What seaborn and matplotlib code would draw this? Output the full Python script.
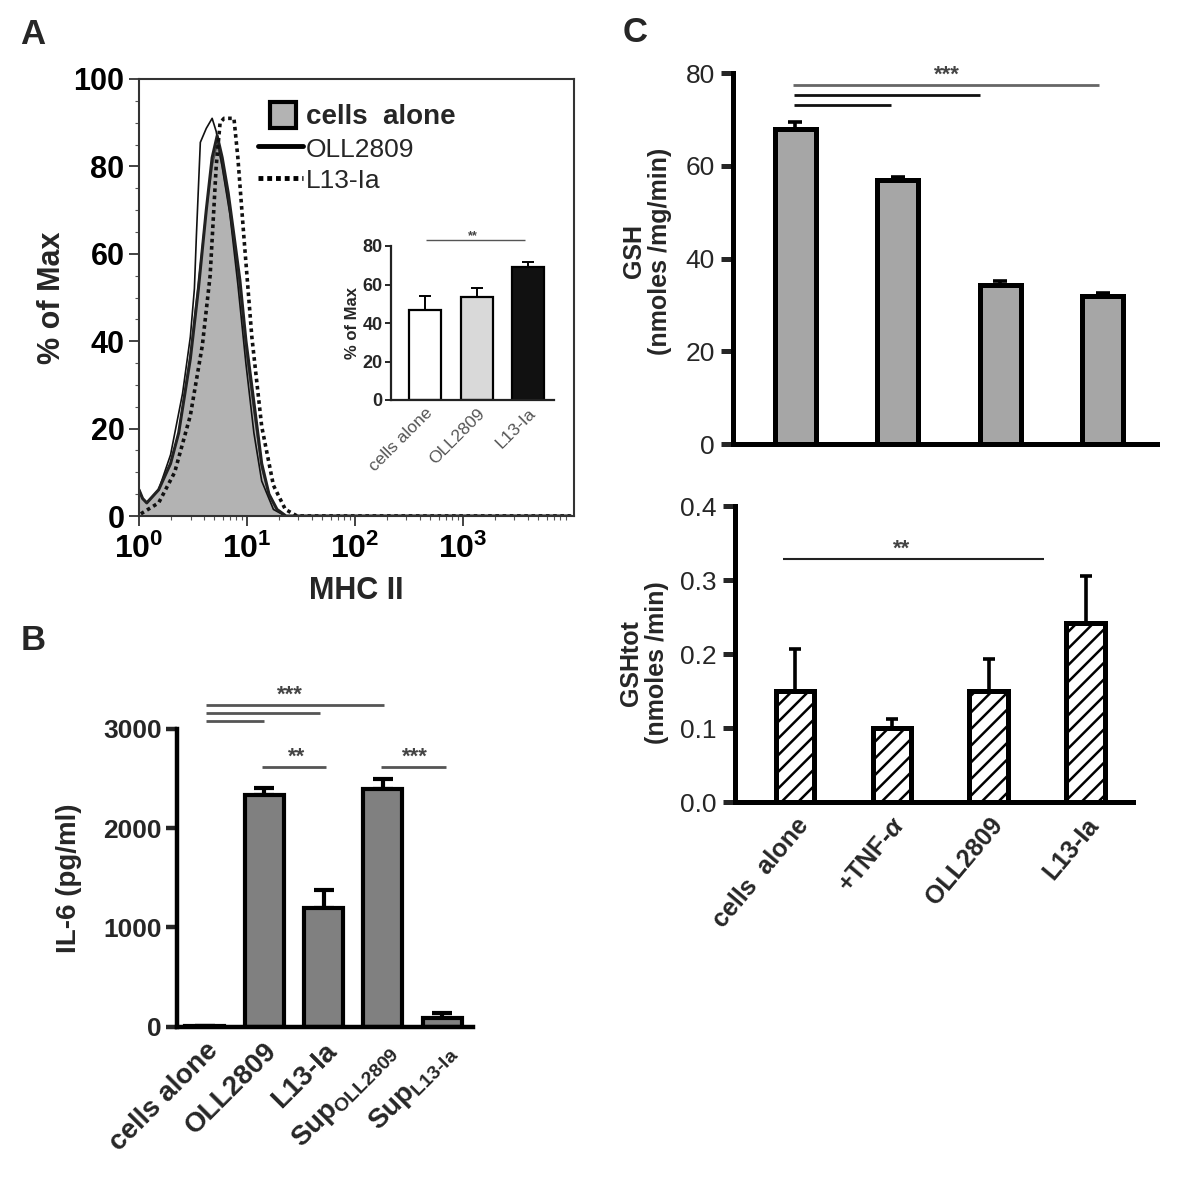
import numpy as np
import pandas as pd
import matplotlib
matplotlib.use("Agg")
import matplotlib.pyplot as plt
import seaborn as sns
from matplotlib import font_manager
from matplotlib.patches import Patch, Rectangle
from matplotlib.lines import Line2D
from matplotlib.legend_handler import HandlerPatch
from matplotlib.ticker import AutoMinorLocator, LogLocator, FixedLocator

sns.set_theme(style="ticks")
plt.rcParams['font.family'] = ['Liberation Sans', 'DejaVu Sans']
plt.rcParams['font.weight'] = 'bold'
plt.rcParams['mathtext.fontset'] = 'custom'
plt.rcParams['mathtext.rm'] = 'Liberation Sans:bold'
plt.rcParams['mathtext.bf'] = 'Liberation Sans:bold'
plt.rcParams['mathtext.it'] = 'Liberation Sans:italic'
plt.rcParams['hatch.linewidth'] = 1.8

names = {f.name for f in font_manager.fontManager.ttflist}
narrow = 'Liberation Sans Narrow' if 'Liberation Sans Narrow' in names else 'Liberation Sans'

# ---- data ----
# A: MHC II histograms (fluorescence, % of max)
mhc_cells = [1.0, 1.08, 1.18, 1.52, 1.96, 2.33, 2.99, 3.55, 4.2, 4.76, 5.3, 5.9, 6.7, 7.6, 8.6, 9.8, 11.6, 13.7, 16.0, 19.0, 23.0, 10000]
pct_cells = [6, 4, 3, 6, 12, 19, 37, 53, 70, 80, 85, 80, 72, 62, 52, 38, 24, 11, 5, 1.5, 0, 0]
pct_oll = [6, 4, 3, 6, 12, 19, 36, 52, 70, 82, 87, 82, 74, 64, 54, 40, 26, 12, 5, 1.5, 0, 0]
mhc_rep = [1.0, 1.08, 1.18, 1.52, 1.96, 2.53, 2.99, 3.26, 3.40, 3.70, 4.2, 4.76, 5.19, 5.89, 6.96, 8.24, 9.77, 11.6, 13.7, 17.6, 22.7, 10000]
pct_rep = [6, 4, 3, 6, 14, 28, 41, 52, 64, 85.5, 88.7, 91, 88, 80, 69, 53, 35, 19, 8, 1.5, 0, 0]
mhc_l13 = [1.04, 1.52, 2.14, 2.99, 3.86, 4.56, 5.19, 5.64, 6.14, 7.58, 8.24, 9.36, 11.1, 13.7, 17.6, 22.7, 29.2, 10000]
pct_l13 = [0.5, 3, 10, 23, 39, 55, 80, 90, 91, 91, 82, 64, 41, 20.5, 7, 1.5, 0, 0]

inset_groups = ['cells alone', 'OLL2809', 'L13-Ia']
inset_mean = [46.5, 53.5, 69]
inset_sem = [7.5, 4.5, 2.5]

# B: IL-6
il6_groups = ['cells alone', 'OLL2809', 'L13-Ia',
              r'Sup$_{\mathbf{OLL2809}}$', r'Sup$_{\mathbf{L13}\text{-}\mathbf{Ia}}$']
il6_mean = [5, 2336, 1200, 2396, 91]
il6_sem = [0, 70, 178, 98, 47]

# C: GSH
gsh_groups = ['cells  alone', r'+TNF-$\alpha$', 'OLL2809', 'L13-Ia']
gsh_mean = [68, 57, 34.2, 32]
gsh_sem = [1.4, 0.5, 1.0, 0.6]
gshtot_mean = [0.15, 0.10, 0.15, 0.242]
gshtot_sem = [0.057, 0.012, 0.043, 0.064]

W, H = 1200, 1192
fig = plt.figure(figsize=(W / 100, H / 100), dpi=100)


def px_axes(l, t, r, b):
    return fig.add_axes([l / W, 1 - b / H, (r - l) / W, (b - t) / H])


def bars(ax, labels, means, sems, colors, width, lw, elw, capsize):
    df = pd.DataFrame({'group': labels, 'value': means})
    sns.barplot(data=df, x='group', y='value', hue='group', palette=colors, legend=False,
                width=width, edgecolor='black', linewidth=lw, saturation=1,
                errorbar=None, ax=ax)
    x = np.arange(len(means))
    ax.errorbar(x, means, yerr=[np.zeros(len(means)), sems], fmt='none', ecolor='black',
                elinewidth=elw, capsize=capsize, capthick=elw, zorder=0.5)
    ax.set_xlabel('')
    ax.set_ylabel('')


def sig(ax, x0, x1, y, color='#555555', lw=2):
    ax.plot([x0, x1], [y, y], color=color, lw=lw, clip_on=False, solid_capstyle='butt')


def stars(ax, x, y, s, size=16):
    ax.text(x, y, s, ha='center', va='baseline', fontsize=size, color='#444444', clip_on=False)


class SquareHandler(HandlerPatch):
    def create_artists(self, legend, orig_handle, xdescent, ydescent, width, height,
                       fontsize, trans):
        s = height * 1.1
        x0 = -xdescent + (width - s) / 2 + 2
        y0 = -ydescent + (height - s) / 2
        p = Rectangle((x0, y0), s, s, facecolor=orig_handle.get_facecolor(),
                      edgecolor=orig_handle.get_edgecolor(),
                      lw=orig_handle.get_linewidth(), transform=trans)
        return [p]


# ---------------- Panel A ----------------
axA = px_axes(139, 79, 574, 516)
axA.fill_between(mhc_cells, pct_cells, color='#b3b3b3', lw=0)
sns.lineplot(x=mhc_cells, y=pct_cells, ax=axA, color='#555555', lw=1.2, estimator=None, sort=False)
sns.lineplot(x=mhc_rep, y=pct_rep, ax=axA, color='#111111', lw=1.2, estimator=None, sort=False)
sns.lineplot(x=mhc_cells, y=pct_oll, ax=axA, color='#222222', lw=2.2, estimator=None, sort=False)
sns.lineplot(x=mhc_l13, y=pct_l13, ax=axA, color='#111111', lw=2.6, ls=(0, (1, 1)),
             estimator=None, sort=False)
axA.set_xscale('log')
axA.set_xlim(1, 10 ** 4.03)
axA.set_ylim(0, 100)
axA.xaxis.set_major_locator(FixedLocator([1, 10, 100, 1000]))
axA.xaxis.set_minor_locator(LogLocator(base=10, subs=np.arange(2, 10), numticks=20))
axA.set_xticklabels([r'$\mathbf{10^{0}}$', r'$\mathbf{10^{1}}$', r'$\mathbf{10^{2}}$', r'$\mathbf{10^{3}}$'])
axA.set_yticks([0, 20, 40, 60, 80, 100])
axA.yaxis.set_minor_locator(AutoMinorLocator(4))
axA.tick_params(axis='both', which='major', direction='out', length=7, width=1.2,
                labelsize=22, colors='#222222', labelcolor='black')
axA.tick_params(axis='both', which='minor', direction='out', length=3, width=0.8, colors='#555555')
axA.tick_params(axis='x', which='major', labelsize=23, pad=6)
for sp in axA.spines.values():
    sp.set_visible(True)
    sp.set_color('#333333')
    sp.set_linewidth(1.5)
axA.set_ylabel('% of Max', fontsize=22, fontweight='bold')
axA.set_xlabel('MHC II', fontsize=22, fontweight='bold', labelpad=8)
axA.yaxis.set_label_coords(-0.166, 0.5)

sq = Patch(facecolor='#b3b3b3', edgecolor='black', linewidth=3)
handles = [sq,
           Line2D([], [], color='black', lw=3.5),
           Line2D([], [], color='black', lw=3.5, ls=(0, (1, 0.8)))]
leg = axA.legend(handles, ['cells  alone', 'OLL2809', 'L13-Ia'], loc='upper left',
                 bbox_to_anchor=(0.2736, 0.945), frameon=False, borderpad=0, borderaxespad=0,
                 handlelength=1.7, handleheight=1.0, handletextpad=0.1, labelspacing=0.22,
                 prop={'size': 19, 'weight': 'normal'}, handler_map={sq: SquareHandler()})
leg.get_texts()[0].set_fontweight('bold')
leg.get_texts()[0].set_fontsize(20)

# inset
axI = px_axes(391, 246, 554, 400)
bars(axI, inset_groups, inset_mean, inset_sem, ['#ffffff', '#d9d9d9', '#111111'],
     0.62, 1.6, 1.4, 4)
axI.set_ylim(0, 80)
axI.set_xlim(-0.66, 2.5)
axI.set_yticks([0, 20, 40, 60, 80])
sns.despine(ax=axI)
for sp in ['left', 'bottom']:
    axI.spines[sp].set_linewidth(1.6)
    axI.spines[sp].set_color('#222222')
axI.tick_params(axis='y', length=4, width=1.4, labelsize=13, pad=2)
axI.tick_params(axis='x', length=0, labelsize=12.5, labelcolor='#555555', pad=4)
axI.set_xticks(range(3))
axI.set_xticklabels(inset_groups, rotation=45, ha='right', rotation_mode='anchor',
                    fontweight='normal')
axI.set_ylabel('% of Max', fontsize=12, fontweight='bold', labelpad=2)
sig(axI, 0.02, 1.94, 83, lw=1)
stars(axI, 0.93, 83.8, '**', size=9)

# ---------------- Panel B ----------------
axB = px_axes(177, 729, 473, 1026.7)
bars(axB, il6_groups, il6_mean, il6_sem, ['#808080'] * 5, 0.66, 3.0, 3.0, 7)
axB.set_ylim(0, 3000)
axB.set_xlim(-0.47, 4.52)
axB.set_yticks([0, 1000, 2000, 3000])
sns.despine(ax=axB)
for sp in ['left', 'bottom']:
    axB.spines[sp].set_linewidth(3.2)
    axB.spines[sp].set_color('black')
axB.tick_params(axis='y', length=8, width=3.2, labelsize=19, pad=3)
axB.tick_params(axis='x', length=0, labelsize=20, pad=8)
axB.set_xticks(range(5))
axB.set_xticklabels(il6_groups, rotation=45, ha='right', rotation_mode='anchor')
axB.set_ylabel('IL-6 (pg/ml)', fontsize=20, fontweight='bold')
axB.yaxis.set_label_coords(-0.32, 0.5)
sig(axB, 0.02, 3.02, 3238)
sig(axB, 0.02, 1.94, 3158)
sig(axB, 0.02, 1.0, 3085)
stars(axB, 1.43, 3280, '***')
sig(axB, 0.96, 2.05, 2615)
stars(axB, 1.54, 2665, '**')
sig(axB, 2.97, 4.07, 2615)
stars(axB, 3.54, 2665, '***')

# ---------------- Panel C top ----------------
axC1 = px_axes(733, 73, 1157, 444)
bars(axC1, gsh_groups, gsh_mean, gsh_sem, ['#a6a6a6'] * 4, 0.40, 3.6, 2.6, 5)
axC1.set_ylim(0, 80)
axC1.set_xlim(-0.61, 3.53)
axC1.set_yticks([0, 20, 40, 60, 80])
sns.despine(ax=axC1)
for sp in ['left', 'bottom']:
    axC1.spines[sp].set_linewidth(3.6)
    axC1.spines[sp].set_color('black')
axC1.tick_params(axis='y', length=9, width=3.6, labelsize=19, pad=4)
axC1.tick_params(axis='x', length=0, labelbottom=False)
for t in axC1.get_yticklabels():
    t.set_fontfamily(narrow)
    t.set_fontweight('normal')
axC1.set_ylabel('GSH\n(nmoles /mg/min)', fontsize=18, fontweight='bold', linespacing=1.1)
axC1.yaxis.set_label_coords(-0.145, 0.52)
sig(axC1, -0.02, 2.96, 77.4, color='#666666')
sig(axC1, -0.01, 1.80, 75.3, color='#111111')
sig(axC1, -0.01, 0.93, 73.0, color='#111111')
stars(axC1, 1.48, 78.3, '***')

# ---------------- Panel C bottom ----------------
axC2 = px_axes(735, 506, 1133, 802)
bars(axC2, gsh_groups, gshtot_mean, gshtot_sem, ['#ffffff'] * 4, 0.40, 3.6, 2.6, 4)
for p in axC2.patches:
    p.set_hatch('//')
axC2.set_ylim(0, 0.4)
axC2.set_xlim(-0.62, 3.49)
axC2.set_yticks([0, 0.1, 0.2, 0.3, 0.4])
axC2.set_yticklabels(['0.0', '0.1', '0.2', '0.3', '0.4'])
sns.despine(ax=axC2)
for sp in ['left', 'bottom']:
    axC2.spines[sp].set_linewidth(3.6)
    axC2.spines[sp].set_color('black')
axC2.tick_params(axis='y', length=9, width=3.6, labelsize=19, pad=4)
axC2.tick_params(axis='x', length=0, labelsize=18, pad=8)
for t in axC2.get_yticklabels():
    t.set_fontfamily(narrow)
    t.set_fontweight('normal')
axC2.set_xticks(range(4))
axC2.set_xticklabels(gsh_groups, rotation=50, ha='right', rotation_mode='anchor')
axC2.set_ylabel('GSHtot\n(nmoles /min)', fontsize=18, fontweight='bold', linespacing=1.1)
axC2.yaxis.set_label_coords(-0.165, 0.47)
sig(axC2, -0.12, 2.57, 0.328, color='#222222', lw=1.5)
stars(axC2, 1.1, 0.334, '**')

# panel letters
fig.text(33 / W, 1 - 35 / H, 'A', fontsize=25, fontweight='bold', ha='center', va='center')
fig.text(33 / W, 1 - 640 / H, 'B', fontsize=25, fontweight='bold', ha='center', va='center')
fig.text(635 / W, 1 - 33 / H, 'C', fontsize=25, fontweight='bold', ha='center', va='center')

fig.savefig('out.png', dpi=100)
